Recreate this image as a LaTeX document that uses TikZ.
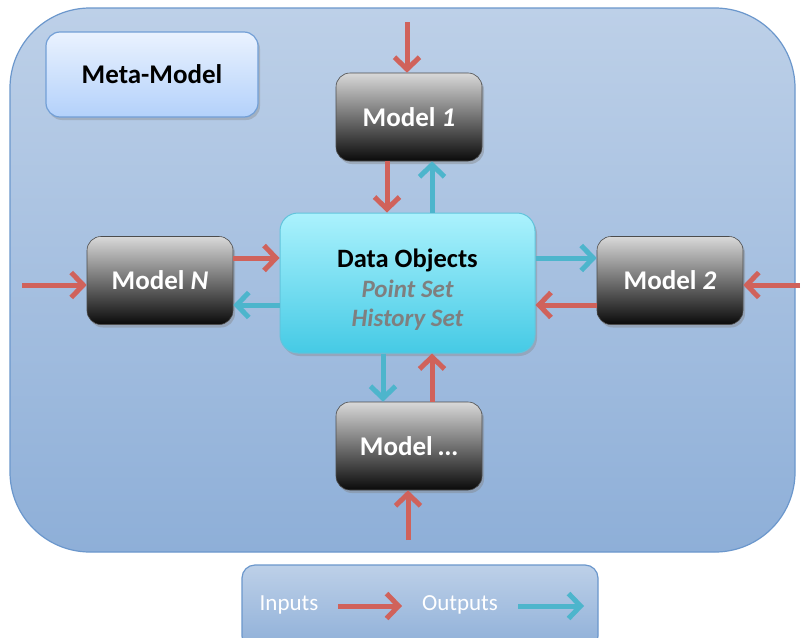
\documentclass[tikz,border=0pt]{standalone}
\usepackage{fontspec}
\setmainfont{Carlito}
\usetikzlibrary{arrows.meta,shadows}

\definecolor{frameTop}{HTML}{BDD0E8}
\definecolor{frameBot}{HTML}{8EAFD8}
\definecolor{frameLine}{HTML}{6B97CC}
\definecolor{metaTop}{HTML}{EAF2FE}
\definecolor{metaBot}{HTML}{B3D1FB}
\definecolor{metaLine}{HTML}{729FD6}
\definecolor{dataTop}{HTML}{ABF2FD}
\definecolor{dataBot}{HTML}{45CAE5}
\definecolor{dataLine}{HTML}{62C4DC}
\definecolor{inRed}{HTML}{D0625B}
\definecolor{outCyan}{HTML}{4DB5CC}
\definecolor{subGray}{HTML}{7F7F7F}

\tikzset{
  bigfont/.style={font=\fontsize{27}{30}\selectfont\bfseries},
  framebox/.style={draw=frameLine, line width=1.2pt, top color=frameTop,
    bottom color=frameBot, inner sep=0pt},
  metabox/.style={draw=metaLine, line width=1.2pt, rounded corners=14pt,
    top color=metaTop, bottom color=metaBot, minimum width=212pt,
    minimum height=85pt, bigfont, text=black,
    drop shadow={opacity=0.35, shadow xshift=2pt, shadow yshift=-3pt}},
  modelbox/.style={rounded corners=14pt, draw=black!70, line width=0.6pt,
    top color=black!15, middle color=black!60, bottom color=black!96,
    minimum width=146pt, minimum height=88pt, bigfont, text=white,
    drop shadow={opacity=0.4, shadow xshift=2pt, shadow yshift=-3pt}},
  databox/.style={rounded corners=18pt, draw=dataLine, line width=1pt,
    top color=dataTop, bottom color=dataBot, minimum width=255pt,
    minimum height=140pt, align=center, text=black,
    font=\fontsize{25}{29.5}\selectfont\bfseries,
    drop shadow={opacity=0.35, shadow xshift=2pt, shadow yshift=-3pt}},
  inarrow/.style={draw=inRed, line width=5pt,
    -{Straight Barb[length=12pt,width=25pt]}},
  outarrow/.style={draw=outCyan, line width=5pt,
    -{Straight Barb[length=12pt,width=25pt]}},
  legendtext/.style={font=\fontsize{23}{26}\selectfont, text=white}
}

\begin{document}
\begin{tikzpicture}[x=1pt,y=-1pt]
\useasboundingbox (0,0) rectangle (802,637);
\fill[white] (0,0) rectangle (802,637);

% outer frame and legend panel
\node[framebox, rounded corners=80pt, minimum width=785pt,
      minimum height=544pt] (frame) at (402.5,280) {};
\node[framebox, rounded corners=13pt, minimum width=356pt,
      minimum height=84pt] (legend) at (420,607) {};

% boxes
\node[metabox] (meta) at (152,74.5) {Meta-Model};
\node[databox] (data) at (407.5,283) {%
  {\fontsize{26.5}{29.5}\selectfont\rule{0pt}{32pt}Data Objects}\\
  {\itshape\color{subGray} Point Set}\\
  {\itshape\color{subGray} History Set}};
\node[modelbox] (m1) at (409,117) {Model \textit{1}};
\node[modelbox] (mN) at (160,280.5) {Model \textit{N}};
\node[modelbox] (m2) at (670,280.5) {Model \textit{2}};
\node[modelbox] (mx) at (409,446) {Model \textit{\dots}};

% external inputs
\coordinate (in1) at (407,22);
\coordinate (inN) at (22,285);
\coordinate (in2) at (800,285);
\coordinate (inx) at (408,540);
\draw[inarrow] (in1) -- (in1 |- m1.north);
\draw[inarrow] (inN) -- (inN -| mN.west);
\draw[inarrow] (in2) -- (in2 -| m2.east);
\draw[inarrow] (inx) -- (inx |- mx.south);

% Model 1 <-> data
\draw[inarrow]  ([xshift=-22pt]m1.south) -- ([xshift=-22pt]m1.south |- data.north);
\draw[outarrow] ([xshift=23pt]m1.south |- data.north) -- ([xshift=23pt]m1.south);

% Model N <-> data
\draw[inarrow]  ([yshift=22.5pt]mN.east) -- ([yshift=22.5pt]mN.east -| data.west);
\draw[outarrow] ([yshift=-24.5pt]mN.east -| data.west) -- ([yshift=-24.5pt]mN.east);

% Model 2 <-> data
\draw[outarrow] ([yshift=22.5pt]m2.west -| data.east) -- ([yshift=22.5pt]m2.west);
\draw[inarrow]  ([yshift=-24.5pt]m2.west) -- ([yshift=-24.5pt]m2.west -| data.east);

% Model ... <-> data
\draw[outarrow] ([xshift=-26pt]mx.north |- data.south) -- ([xshift=-26pt]mx.north);
\draw[inarrow]  ([xshift=23pt]mx.north) -- ([xshift=23pt]mx.north |- data.south);

% legend
\node[legendtext] (lin) at (289,605) {Inputs};
\node[legendtext] (lout) at (460,605) {Outputs};
\coordinate (lr1) at (338,606);
\coordinate (lr2) at (402,606);
\coordinate (lc1) at (518,606);
\coordinate (lc2) at (584,606);
\draw[inarrow] (lr1) -- (lr2);
\draw[outarrow] (lc1) -- (lc2);
\end{tikzpicture}
\end{document}
